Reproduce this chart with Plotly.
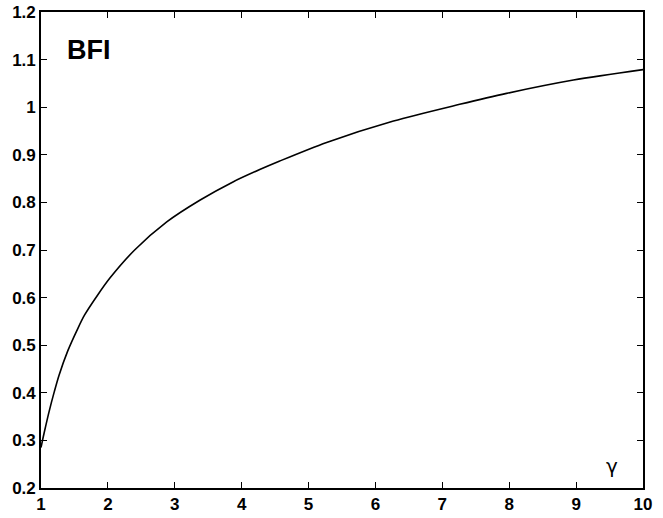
import plotly.graph_objects as go

gamma = [1.0, 1.03, 1.07, 1.12, 1.2, 1.27, 1.4, 1.55, 1.65, 1.85, 2.03, 2.4, 2.88,
         3.38, 3.87, 4.27, 4.57, 5.27, 6.27, 7.26, 7.96, 8.96, 10.0]
bfi = [0.285, 0.305, 0.330, 0.360, 0.403, 0.437, 0.488, 0.535, 0.563, 0.606, 0.641,
       0.700, 0.759, 0.805, 0.843, 0.869, 0.887, 0.926, 0.971, 1.006, 1.029, 1.057, 1.079]

x_ticks = [1, 2, 3, 4, 5, 6, 7, 8, 9, 10]
y_ticks = [0.2, 0.3, 0.4, 0.5, 0.6, 0.7, 0.8, 0.9, 1.0, 1.1, 1.2]
y_labels = ["0.2", "0.3", "0.4", "0.5", "0.6", "0.7", "0.8", "0.9", "1", "1.1", "1.2"]

fig = go.Figure()
fig.add_trace(go.Scatter(x=gamma, y=bfi, mode="lines",
                         line=dict(color="black", width=1.6, shape="spline", smoothing=0.8),
                         showlegend=False, hoverinfo="skip"))

tickfont = dict(family="Liberation Sans", size=17, color="black")
fig.update_layout(
    width=663, height=518,
    margin=dict(l=41, r=20, t=12, b=30),
    paper_bgcolor="white", plot_bgcolor="white",
    font=dict(family="Liberation Sans", color="black"),
    xaxis=dict(range=[1, 10], tickvals=x_ticks, ticktext=[f"<b>{t}</b>" for t in x_ticks],
               ticks="inside", ticklen=6, tickwidth=1.3, tickcolor="black",
               showline=True, linecolor="black", linewidth=1.6, mirror="ticks",
               showgrid=False, zeroline=False, tickfont=tickfont, automargin=False),
    yaxis=dict(range=[0.2, 1.2], tickvals=y_ticks, ticktext=[f"<b>{t}</b>" for t in y_labels],
               ticks="inside", ticklen=6, tickwidth=1.3, tickcolor="black",
               showline=True, linecolor="black", linewidth=1.6, mirror="ticks",
               showgrid=False, zeroline=False, tickfont=tickfont, automargin=False),
    annotations=[
        dict(x=1.36, y=1.12, xref="x", yref="y", text="<b>BFI</b>", showarrow=False,
             xanchor="left", yanchor="middle",
             font=dict(family="Liberation Sans", size=27, color="black")),
        dict(x=9.53, y=0.247, xref="x", yref="y", text="γ", showarrow=False,
             xanchor="center", yanchor="middle",
             font=dict(family="DejaVu Sans", size=20, color="black")),
    ],
)

fig.write_html("out.html", config={"displayModeBar": False},
               post_script="document.body.style.margin='0';document.body.style.overflow='hidden';")
